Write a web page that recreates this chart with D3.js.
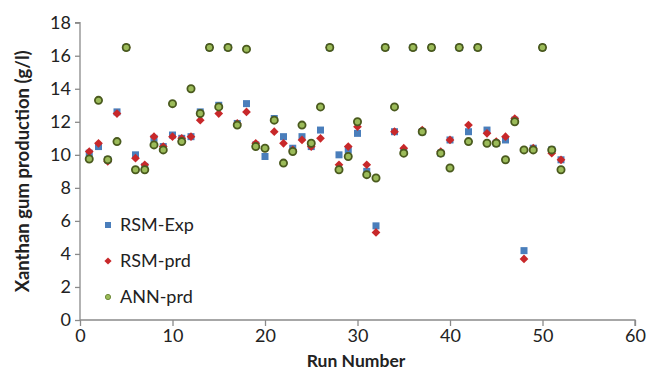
<!DOCTYPE html>
<html>
<head>
<meta charset="utf-8">
<script src="https://cdn.jsdelivr.net/npm/d3@7"></script>
<style>
  body { margin: 0; background: #fff; }
  text { font-family: Lato, "Open Sans", sans-serif; fill: #222; }
</style>
</head>
<body>
<svg id="chart" width="647" height="371"></svg>
<script>
// run numbers 1..52
var runs = d3.range(1, 53)

var rsmExp = [10.1, 10.5, 9.7, 12.6, 16.5, 10.0, 9.3, 11.0, 10.5, 11.2,
  11.0, 11.1, 12.6, 16.5, 13.0, 16.5, 11.9, 13.1, 10.6, 9.9,
  12.2, 11.1, 10.4, 11.1, 10.5, 11.5, 16.5, 10.0, 10.3, 11.3,
  9.0, 5.7, 16.5, 11.4, 10.2, 16.5, 11.4, 16.5, 10.1, 10.9,
  16.5, 11.4, 16.5, 11.5, 10.7, 10.9, 12.1, 4.2, 10.4, 16.5,
  10.3, 9.7]

var rsmPrd = [10.2, 10.7, 9.6, 12.5, 16.5, 9.8, 9.4, 11.1, 10.5, 11.1,
  11.0, 11.1, 12.1, 16.5, 12.5, 16.5, 11.9, 12.6, 10.7, 10.4,
  11.4, 10.7, 10.3, 10.9, 10.5, 11.0, 16.5, 9.4, 10.5, 11.7,
  9.4, 5.3, 16.5, 11.4, 10.4, 16.5, 11.5, 16.5, 10.2, 10.9,
  16.5, 11.8, 16.5, 11.3, 10.8, 11.1, 12.2, 3.7, 10.4, 16.5,
  10.1, 9.7]

var annPrd = [9.75, 13.3, 9.7, 10.8, 16.5, 9.1, 9.1, 10.6, 10.3, 13.1,
  10.8, 14.0, 12.5, 16.5, 12.9, 16.5, 11.8, 16.4, 10.5, 10.4,
  12.1, 9.5, 10.2, 11.8, 10.7, 12.9, 16.5, 9.1, 9.9, 12.0,
  8.8, 8.6, 16.5, 12.9, 10.1, 16.5, 11.4, 16.5, 10.1, 9.2,
  16.5, 10.8, 16.5, 10.7, 10.7, 9.7, 12.0, 10.3, 10.3, 16.5,
  10.3, 9.1]

var xTicks = [0, 10, 20, 30, 40, 50, 60]
var yTicks = d3.range(0, 19, 2)
var seriesNames = ['RSM-Exp', 'RSM-prd', 'ANN-prd']

var svg = d3.select('#chart')
var axisColor = '#8a8a8a'

var x = d3.scaleLinear().domain([0, 60]).range([80, 635])
var y = d3.scaleLinear().domain([0, 18]).range([320, 22.7])

var yAxis = svg.append('g')
  .attr('transform', 'translate(80,0)')
  .call(d3.axisLeft(y).tickValues(yTicks).tickSize(5).tickPadding(4))
var xAxis = svg.append('g')
  .attr('transform', 'translate(0,320)')
  .call(d3.axisBottom(x).tickValues(xTicks).tickSize(6).tickPadding(3))

svg.selectAll('.domain, .tick line').attr('stroke', axisColor).attr('stroke-width', 1.3)
svg.selectAll('.tick text').attr('font-size', 18).attr('fill', '#2a2a2a')
  .style('font-family', 'Lato, "Open Sans", sans-serif')
yAxis.select('.domain').attr('d', 'M-5,' + y(18) + 'H0V' + y(0))
xAxis.select('.domain').attr('d', 'M' + x(0) + ',0H' + x(60) + 'V6')

svg.append('text')
  .attr('transform', 'translate(29,' + (y(9)) + ') rotate(-90)')
  .attr('text-anchor', 'middle')
  .attr('font-size', 18.5).attr('font-weight', 'bold')
  .text('Xanthan gum production (g/l)')

svg.append('text')
  .attr('x', 356).attr('y', 367)
  .attr('text-anchor', 'middle')
  .attr('font-size', 17.5).attr('font-weight', 'bold')
  .text('Run Number')

var blue = '#4a7ebb', red = '#c8282a', green = '#9bbb59', greenEdge = '#4a5a1e'

var plot = svg.append('g')

plot.selectAll('rect.exp').data(runs).join('rect')
  .attr('class', 'exp')
  .attr('x', (d, i) => x(d) - 3.5)
  .attr('y', (d, i) => y(rsmExp[i]) - 3.5)
  .attr('width', 7).attr('height', 7)
  .attr('fill', blue)

// diamond = square turned 45 degrees
plot.selectAll('path.prd').data(runs).join('path')
  .attr('class', 'prd')
  .attr('d', d3.symbol(d3.symbolSquare, 38))
  .attr('transform', (d, i) => 'translate(' + x(d) + ',' + y(rsmPrd[i]) + ') rotate(45)')
  .attr('fill', red)

plot.selectAll('circle.ann').data(runs).join('circle')
  .attr('class', 'ann')
  .attr('cx', d => x(d))
  .attr('cy', (d, i) => y(annPrd[i]))
  .attr('r', 3.6)
  .attr('fill', green)
  .attr('stroke', greenEdge)
  .attr('stroke-width', 1.8)

// legend
var leg = svg.append('g')
var legY = [225, 261, 297]

leg.append('rect').attr('x', 105).attr('y', legY[0] - 3).attr('width', 6).attr('height', 6).attr('fill', blue)
leg.append('path').attr('d', d3.symbol(d3.symbolSquare, 26))
  .attr('transform', 'translate(108,' + legY[1] + ') rotate(45)').attr('fill', red)
leg.append('circle').attr('cx', 108).attr('cy', legY[2]).attr('r', 2.6)
  .attr('fill', green).attr('stroke', '#6f8a3a').attr('stroke-width', 1)

leg.selectAll('text').data(seriesNames).join('text')
  .attr('x', 120)
  .attr('y', (d, i) => legY[i] + 6)
  .attr('font-size', 18)
  .attr('fill', '#2a2a2a')
  .text(d => d)
</script>
</body>
</html>
